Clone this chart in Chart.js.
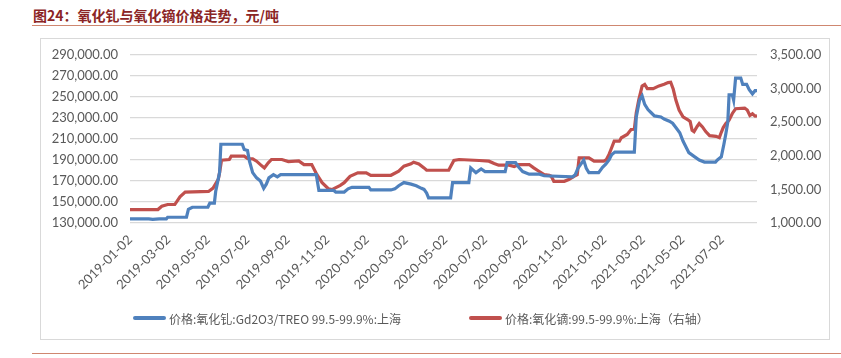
<!DOCTYPE html>
<html>
<head>
<meta charset="utf-8">
<script src="https://cdn.jsdelivr.net/npm/chart.js@4"></script>
<style>
  html,body{margin:0;padding:0;background:#fff;}
  #page{position:relative;width:841px;height:358px;overflow:hidden;background:#fff;}
  #title{position:absolute;left:33px;top:5px;font:bold 14px "Noto Sans CJK SC","Noto Sans",sans-serif;color:#8B2525;white-space:nowrap;}
  #topline{position:absolute;left:32px;top:25px;width:809px;height:0;border-top:1.5px solid #CF8770;}
  #box{position:absolute;left:40px;top:38px;width:790px;height:302px;border:1px solid #D9D9D9;box-sizing:border-box;}
  #botline{position:absolute;left:32px;top:353px;width:809px;height:0;border-top:1.5px solid #CF8770;}
  #chart{position:absolute;left:0;top:0;}
  #legend{position:absolute;left:0;top:309px;width:841px;height:18px;font:12px "Noto Sans CJK SC","Noto Sans",sans-serif;color:#595959;white-space:nowrap;}
  .item{position:absolute;top:0;display:flex;align-items:center;height:18px;}
  .swatch{display:inline-block;width:33px;height:3.5px;border-radius:2px;margin-right:3px;}
</style>
</head>
<body>
<div id="page">
  <div id="title">图24：氧化钆与氧化镝价格走势，元/吨</div>
  <div id="topline"></div>
  <div id="box"></div>
  <canvas id="chart" width="841" height="358"></canvas>
  <div id="legend"></div>
  <div id="botline"></div>
</div>
<script>
// ---- data ----
const tickDates = ['2019-01-02','2019-03-02','2019-05-02','2019-07-02','2019-09-02','2019-11-02',
  '2020-01-02','2020-03-02','2020-05-02','2020-07-02','2020-09-02','2020-11-02',
  '2021-01-02','2021-03-02','2021-05-02','2021-07-02'];
const axisStart = '2019-01-02';
const axisEnd = '2021-08-25';

const gdLabel = '价格:氧化钆:Gd2O3/TREO 99.5-99.9%:上海';
const dyLabel = '价格:氧化镝:99.5-99.9%:上海（右轴）';

const gdDates = ['2019-01-02','2019-01-31','2019-02-06','2019-02-16','2019-02-27','2019-03-01','2019-03-30','2019-04-02','2019-04-08','2019-05-02',
  '2019-05-05','2019-05-12','2019-05-14','2019-05-18','2019-05-20','2019-05-22','2019-06-24','2019-06-27','2019-07-02','2019-07-05',
  '2019-07-10','2019-07-16','2019-07-22','2019-07-27','2019-07-31','2019-08-04','2019-08-11','2019-08-17','2019-08-22','2019-10-16',
  '2019-10-20','2019-11-12','2019-11-15','2019-11-28','2019-12-04','2019-12-10','2020-01-05','2020-01-08','2020-02-08','2020-02-14',
  '2020-02-20','2020-02-28','2020-03-10','2020-03-18','2020-03-26','2020-03-30','2020-04-03','2020-04-06','2020-05-10','2020-05-13',
  '2020-06-07','2020-06-10','2020-06-18','2020-06-26','2020-07-02','2020-08-02','2020-08-05','2020-08-18','2020-08-23','2020-08-29',
  '2020-09-08','2020-09-24','2020-10-01','2020-11-14','2020-11-18','2020-11-22','2020-12-01','2020-12-05','2020-12-09','2020-12-24',
  '2020-12-30','2021-01-04','2021-01-09','2021-01-13','2021-01-18','2021-02-17','2021-02-20','2021-02-25','2021-03-01','2021-03-05',
  '2021-03-10','2021-03-15','2021-03-20','2021-03-30','2021-04-04','2021-04-12','2021-04-17','2021-04-22','2021-04-28','2021-05-03',
  '2021-05-08','2021-05-12','2021-05-20','2021-05-28','2021-06-05','2021-06-22','2021-06-25','2021-07-01','2021-07-05','2021-07-08',
  '2021-07-11','2021-07-13','2021-07-18','2021-07-20','2021-07-23','2021-07-31','2021-08-03','2021-08-09','2021-08-13','2021-08-18',
  '2021-08-22','2021-08-25'];
const gdPrice = [134000,134000,133500,134000,134000,135500,135500,143000,145000,145000,
  149000,149000,160000,172000,178000,205000,205000,200000,199000,189000,
  178000,173000,170000,163000,167000,173000,176000,174000,176000,176000,
  161000,161000,159500,159500,162500,164000,164000,161500,161500,162500,
  165500,168500,167000,165500,163000,162000,158500,154000,154000,168500,
  168500,182400,178000,181400,179000,179000,187500,187500,183000,179000,
  176500,176500,175000,174000,176000,182000,190000,182000,178000,178000,
  183000,186000,190000,195000,197500,197500,231000,247000,251000,243000,
  238000,235000,232000,231000,229000,227000,225000,221000,216000,208000,
  202000,197000,193500,190000,188000,188000,190000,193000,205000,215000,
  226000,252000,252000,247000,268000,268000,262000,262000,257000,253000,
  256000,256000];

const dyDates = ['2019-01-02','2019-02-14','2019-02-20','2019-03-01','2019-03-12','2019-03-20','2019-03-28','2019-05-03','2019-05-10','2019-05-18',
  '2019-05-20','2019-05-23','2019-06-04','2019-06-07','2019-06-27','2019-07-02','2019-07-10','2019-07-16','2019-07-24','2019-07-28',
  '2019-08-03','2019-08-08','2019-08-24','2019-09-03','2019-09-19','2019-09-27','2019-10-09','2019-10-17','2019-10-25','2019-11-04',
  '2019-11-09','2019-11-22','2019-11-28','2019-12-07','2019-12-19','2020-01-01','2020-01-08','2020-02-08','2020-02-20','2020-02-28',
  '2020-03-10','2020-03-14','2020-03-22','2020-03-30','2020-04-03','2020-05-07','2020-05-15','2020-05-23','2020-06-23','2020-07-08',
  '2020-07-16','2020-07-23','2020-08-08','2020-08-16','2020-08-23','2020-09-08','2020-09-15','2020-09-23','2020-10-01','2020-10-09',
  '2020-10-12','2020-10-16','2020-11-01','2020-11-08','2020-11-16','2020-11-21','2020-11-24','2020-12-09','2020-12-17','2021-01-01',
  '2021-01-05','2021-01-09','2021-01-12','2021-01-17','2021-01-25','2021-01-28','2021-02-06','2021-02-12','2021-02-17','2021-02-20',
  '2021-02-24','2021-03-01','2021-03-05','2021-03-09','2021-03-18','2021-03-27','2021-04-04','2021-04-10','2021-04-14','2021-04-18',
  '2021-04-22','2021-04-27','2021-05-03','2021-05-10','2021-05-14','2021-05-17','2021-05-20','2021-05-25','2021-05-28','2021-06-02',
  '2021-06-07','2021-06-13','2021-06-23','2021-06-28','2021-07-01','2021-07-04','2021-07-08','2021-07-13','2021-07-18','2021-07-23',
  '2021-08-06','2021-08-10','2021-08-14','2021-08-18','2021-08-22','2021-08-25'];
const dyPrice = [1200,1200,1250,1275,1275,1390,1460,1470,1520,1650,
  1750,1935,1945,1995,1995,1960,1955,1920,1850,1820,
  1895,1945,1945,1915,1925,1870,1870,1720,1600,1507,
  1497,1560,1600,1695,1746,1746,1710,1710,1770,1845,
  1880,1905,1880,1820,1785,1785,1930,1945,1930,1920,
  1885,1860,1860,1840,1870,1870,1820,1770,1720,1710,
  1695,1620,1620,1646,1695,1720,1970,1970,1920,1920,
  1945,2020,2094,2217,2217,2268,2318,2392,2395,2640,
  2840,3038,3063,3000,3000,3040,3065,3090,3095,2990,
  2830,2680,2580,2540,2510,2380,2360,2440,2480,2430,
  2360,2300,2290,2270,2350,2420,2480,2530,2630,2700,
  2710,2680,2600,2625,2590,2595];

// ---- helpers ----
function dayIndex(s){
  const [y,m,d] = s.split('-').map(Number);
  const [y0,m0,d0] = axisStart.split('-').map(Number);
  return (Date.UTC(y,m-1,d) - Date.UTC(y0,m0-1,d0)) / 86400000;
}
const tickMap = {};
tickDates.forEach(t => tickMap[dayIndex(t)] = t);

const BLUE = '#4F81BD', RED = '#C0504D';
const FONT = 'Lato, "Open Sans", sans-serif';

const ctx = document.getElementById('chart').getContext('2d');
const chart = new Chart(ctx, {
  type: 'line',
  data: {
    datasets: [
      { label: gdLabel, data: gdDates.map((d,i)=>({x:dayIndex(d), y:gdPrice[i]})),
        borderColor: BLUE, backgroundColor: BLUE, borderWidth: 3.2, pointRadius: 0, yAxisID: 'y', tension: 0 },
      { label: dyLabel, data: dyDates.map((d,i)=>({x:dayIndex(d), y:dyPrice[i]})),
        borderColor: RED, backgroundColor: RED, borderWidth: 3.2, pointRadius: 0, yAxisID: 'y1', tension: 0 }
    ]
  },
  options: {
    responsive: false,
    animation: false,
    devicePixelRatio: 1,
    layout: { padding: { top: 55, bottom: 55, left: 0, right: 0 } },
    plugins: { legend: { display: false }, tooltip: { enabled: false } },
    scales: {
      x: {
        type: 'linear',
        min: dayIndex(axisStart), max: dayIndex(axisEnd),
        afterBuildTicks: s => { s.ticks = tickDates.map(t => ({ value: dayIndex(t) })); },
        afterFit: s => { s.height = 80; },
        grid: { display: false, drawTicks: false },
        border: { display: false },
        ticks: {
          minRotation: 45, maxRotation: 45, autoSkip: false, padding: 9,
          color: '#595959', font: { family: FONT, size: 13 },
          callback: v => tickMap[v] || ''
        }
      },
      y: {
        position: 'left', min: 130000, max: 290000,
        afterBuildTicks: s => { const a=[]; for (let v=130000; v<=290000; v+=20000) a.push({value:v}); s.ticks=a; },
        afterFit: s => { s.width = 130; },
        grid: { color: '#D9D9D9', lineWidth: 1.3, drawTicks: false },
        border: { display: false },
        ticks: { padding: 12, color: '#595959', font: { family: FONT, size: 13 },
          callback: v => v.toLocaleString('en-US', {minimumFractionDigits:2, maximumFractionDigits:2}) }
      },
      y1: {
        position: 'right', min: 1000, max: 3500,
        afterBuildTicks: s => { const a=[]; for (let v=1000; v<=3500; v+=500) a.push({value:v}); s.ticks=a; },
        afterFit: s => { s.width = 84; },
        grid: { display: false, drawTicks: false },
        border: { display: false },
        ticks: { padding: 13, color: '#595959', font: { family: FONT, size: 13 },
          callback: v => v.toLocaleString('en-US', {minimumFractionDigits:2, maximumFractionDigits:2}) }
      }
    }
  }
});

// ---- legend (HTML, from datasets) ----
const legend = document.getElementById('legend');
const legendX = [133, 469];
chart.data.datasets.forEach((ds, i) => {
  const it = document.createElement('div');
  it.className = 'item';
  it.style.left = legendX[i] + 'px';
  const sw = document.createElement('span');
  sw.className = 'swatch';
  sw.style.background = ds.borderColor;
  const tx = document.createElement('span');
  tx.textContent = ds.label;
  it.appendChild(sw); it.appendChild(tx);
  legend.appendChild(it);
});
</script>
</body>
</html>
